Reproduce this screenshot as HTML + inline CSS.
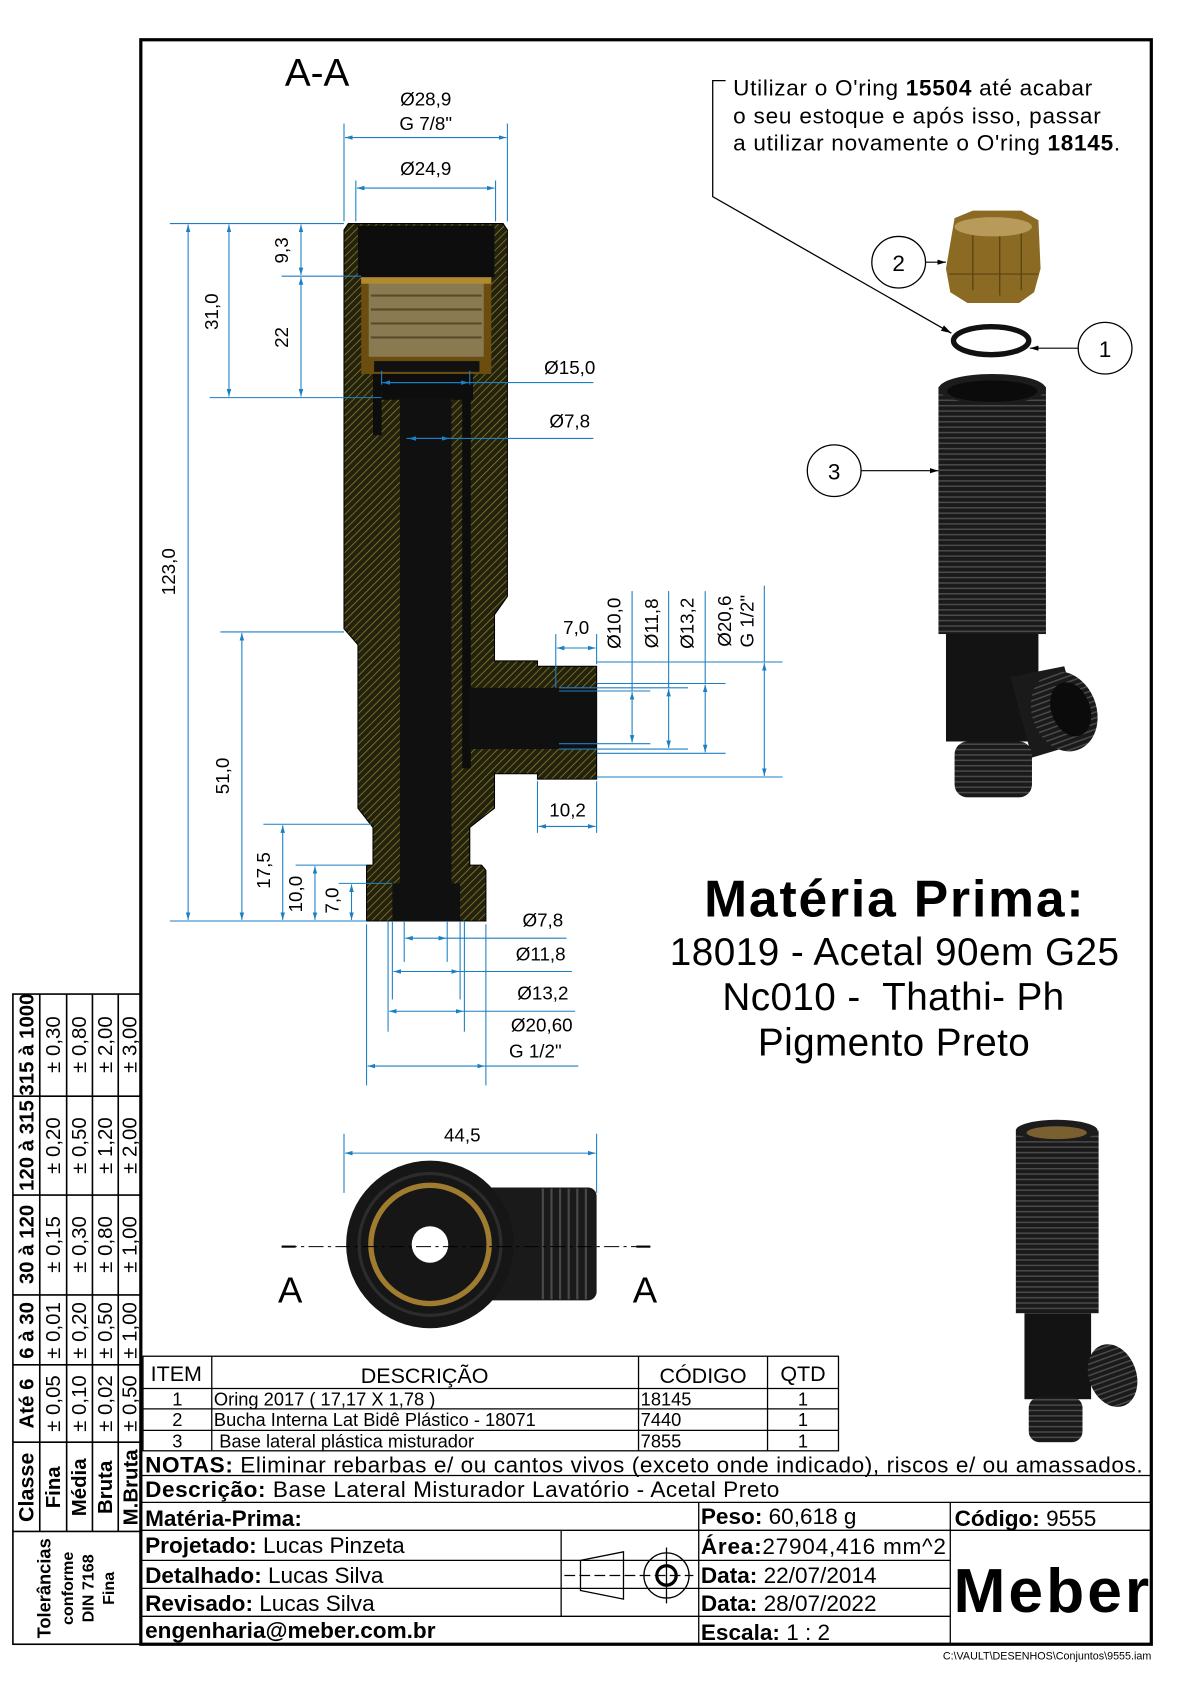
<!DOCTYPE html>
<html><head><meta charset="utf-8"><style>
html,body{margin:0;padding:0;background:#fff;width:1190px;height:1684px;overflow:hidden}
svg{display:block}
text{font-family:"Liberation Sans",sans-serif;fill:#000}
.d{stroke:#1b7fc4;stroke-width:1;fill:none}
.t{font-size:17.5px}
</style></head><body>
<svg width="1190" height="1684" viewBox="0 0 1107 1567" preserveAspectRatio="none" xmlns="http://www.w3.org/2000/svg">
<defs>
<pattern id="h" width="5" height="5" patternUnits="userSpaceOnUse" patternTransform="rotate(45)">
<rect width="5" height="5" fill="#24220e"/><line x1="0" y1="0" x2="0" y2="5" stroke="#8f8a2c" stroke-width="1.3"/>
</pattern>
<pattern id="rib" width="8" height="5" patternUnits="userSpaceOnUse">
<rect width="8" height="5" fill="#1a1a1a"/><line x1="0" y1="2.5" x2="8" y2="2.5" stroke="#4a4a4a" stroke-width="1.4"/>
</pattern>
<marker id="a" viewBox="0 0 10 10" refX="10" refY="5" markerWidth="7" markerHeight="7" orient="auto-start-reverse"><path d="M0,2 L10,5 L0,8z" fill="#1b7fc4"/></marker>
<marker id="k" viewBox="0 0 10 10" refX="10" refY="5" markerWidth="8" markerHeight="8" orient="auto"><path d="M0,2 L10,5 L0,8z" fill="#000"/></marker>
</defs>

<rect x="131" y="37" width="940" height="1493" fill="none" stroke="#000" stroke-width="3"/>

<text x="265" y="80" font-size="36">A-A</text>

<path d="M324,208 L468,208 L472,214 L472,555 L460,572 L460,615 L500,615 L500,620 L555,620 L555,725 L500,725 L500,720 L460,720 L460,752 L437,770 L437,805 L448,805 L452,810 L452,857 L341,857 L341,805 L347,805 L347,770 L333,752 L333,600 L320,585 L320,214z" fill="url(#h)" stroke="#000" stroke-width="1"/>
<rect x="333" y="210" width="127" height="48" fill="#0d0d0d"/>
<rect x="336" y="258" width="121" height="90" fill="#6b4d10"/>
<rect x="343" y="262" width="107" height="70" fill="#8a7a52"/>
<g stroke="#5a4a2a" stroke-width="2"><line x1="345" y1="275" x2="448" y2="275"/><line x1="345" y1="288" x2="448" y2="288"/><line x1="345" y1="301" x2="448" y2="301"/><line x1="345" y1="314" x2="448" y2="314"/></g>
<rect x="336" y="258" width="121" height="6" fill="#b08a30"/>
<rect x="348" y="336" width="98" height="10" fill="#111"/>
<rect x="355" y="348" width="85" height="24" fill="#0d0d0d"/>
<rect x="347" y="348" width="8" height="57" fill="#0d0d0d"/>
<rect x="372" y="370" width="48" height="487" fill="#101010"/>
<rect x="430" y="370" width="8" height="345" fill="#0d0d0d"/>
<rect x="438" y="640" width="117" height="57" fill="#101010"/>
<rect x="365" y="822" width="63" height="35" fill="#101010"/>

<g class="d">
<line x1="320" y1="115" x2="320" y2="206"/><line x1="472" y1="115" x2="472" y2="206"/>
<line x1="321" y1="128" x2="471" y2="128" marker-start="url(#a)" marker-end="url(#a)"/>
<line x1="331" y1="168" x2="331" y2="206"/><line x1="461" y1="168" x2="461" y2="206"/>
<line x1="332" y1="175" x2="460" y2="175" marker-start="url(#a)" marker-end="url(#a)"/>
<line x1="158" y1="208" x2="320" y2="208"/>
<line x1="175" y1="209" x2="175" y2="856" marker-start="url(#a)" marker-end="url(#a)"/>
<line x1="213" y1="209" x2="213" y2="369" marker-start="url(#a)" marker-end="url(#a)"/>
<line x1="195" y1="370" x2="355" y2="370"/>
<line x1="280" y1="209" x2="280" y2="256" marker-start="url(#a)" marker-end="url(#a)"/>
<line x1="262" y1="257" x2="336" y2="257"/>
<line x1="280" y1="258" x2="280" y2="369" marker-start="url(#a)" marker-end="url(#a)"/>
<line x1="355" y1="356" x2="552" y2="356"/>
<line x1="356" y1="356" x2="436" y2="356" marker-start="url(#a)" marker-end="url(#a)"/>
<line x1="355" y1="345" x2="355" y2="358"/><line x1="437" y1="345" x2="437" y2="358"/>
<line x1="378" y1="408" x2="552" y2="408"/>
<line x1="380" y1="408" x2="418" y2="408" marker-start="url(#a)" marker-end="url(#a)"/>
<line x1="158" y1="857" x2="341" y2="857"/>
<line x1="205" y1="588" x2="320" y2="588"/>
<line x1="225" y1="589" x2="225" y2="856" marker-start="url(#a)" marker-end="url(#a)"/>
<line x1="245" y1="767" x2="345" y2="767"/>
<line x1="263" y1="768" x2="263" y2="856" marker-start="url(#a)" marker-end="url(#a)"/>
<line x1="275" y1="805" x2="341" y2="805"/>
<line x1="293" y1="806" x2="293" y2="856" marker-start="url(#a)" marker-end="url(#a)"/>
<line x1="315" y1="822" x2="365" y2="822"/>
<line x1="327" y1="823" x2="327" y2="856" marker-start="url(#a)" marker-end="url(#a)"/>
<line x1="517" y1="590" x2="517" y2="640"/><line x1="555" y1="590" x2="555" y2="618"/>
<line x1="518" y1="603" x2="554" y2="603" marker-start="url(#a)" marker-end="url(#a)"/>
<line x1="500" y1="727" x2="500" y2="775"/><line x1="555" y1="727" x2="555" y2="775"/>
<line x1="501" y1="769" x2="554" y2="769" marker-start="url(#a)" marker-end="url(#a)"/>
<line x1="555" y1="616" x2="728" y2="616"/><line x1="555" y1="723" x2="728" y2="723"/>
<line x1="711" y1="617" x2="711" y2="722" marker-start="url(#a)" marker-end="url(#a)"/>
<line x1="555" y1="636" x2="675" y2="636"/><line x1="555" y1="701" x2="675" y2="701"/>
<line x1="656" y1="637" x2="656" y2="700" marker-start="url(#a)" marker-end="url(#a)"/>
<line x1="520" y1="640" x2="640" y2="640"/><line x1="520" y1="697" x2="640" y2="697"/>
<line x1="622" y1="641" x2="622" y2="696" marker-start="url(#a)" marker-end="url(#a)"/>
<line x1="520" y1="643" x2="605" y2="643"/><line x1="520" y1="692" x2="605" y2="692"/>
<line x1="588" y1="644" x2="588" y2="691" marker-start="url(#a)" marker-end="url(#a)"/>
<line x1="588" y1="550" x2="588" y2="643"/><line x1="622" y1="550" x2="622" y2="640"/><line x1="656" y1="550" x2="656" y2="636"/><line x1="711" y1="545" x2="711" y2="616"/>
<line x1="376" y1="857" x2="376" y2="895"/><line x1="416" y1="857" x2="416" y2="895"/>
<line x1="377" y1="873" x2="415" y2="873" marker-start="url(#a)" marker-end="url(#a)"/><line x1="415" y1="873" x2="527" y2="873"/>
<line x1="365" y1="857" x2="365" y2="930"/><line x1="428" y1="857" x2="428" y2="930"/>
<line x1="366" y1="904" x2="427" y2="904" marker-start="url(#a)" marker-end="url(#a)"/><line x1="427" y1="904" x2="532" y2="904"/>
<line x1="361" y1="857" x2="361" y2="960"/><line x1="432" y1="857" x2="432" y2="960"/>
<line x1="362" y1="941" x2="431" y2="941" marker-start="url(#a)" marker-end="url(#a)"/><line x1="431" y1="941" x2="535" y2="941"/>
<line x1="341" y1="860" x2="341" y2="1010"/><line x1="452" y1="860" x2="452" y2="1010"/>
<line x1="342" y1="992" x2="451" y2="992" marker-start="url(#a)" marker-end="url(#a)"/><line x1="451" y1="992" x2="538" y2="992"/>
<line x1="320" y1="1055" x2="320" y2="1110"/><line x1="555" y1="1055" x2="555" y2="1110"/>
<line x1="321" y1="1073" x2="554" y2="1073" marker-start="url(#a)" marker-end="url(#a)"/>
</g>
<g class="t">
<text x="396" y="98" text-anchor="middle">Ø28,9</text>
<text x="396" y="121" text-anchor="middle">G 7/8"</text>
<text x="396" y="163" text-anchor="middle">Ø24,9</text>
<text transform="translate(203,290) rotate(-90)" text-anchor="middle">31,0</text>
<text transform="translate(268,233) rotate(-90)" text-anchor="middle">9,3</text>
<text transform="translate(268,314) rotate(-90)" text-anchor="middle">22</text>
<text transform="translate(163,532) rotate(-90)" text-anchor="middle">123,0</text>
<text transform="translate(213,722) rotate(-90)" text-anchor="middle">51,0</text>
<text transform="translate(251,810) rotate(-90)" text-anchor="middle">17,5</text>
<text transform="translate(281,832) rotate(-90)" text-anchor="middle">10,0</text>
<text transform="translate(315,838) rotate(-90)" text-anchor="middle">7,0</text>
<text x="530" y="348" text-anchor="middle">Ø15,0</text>
<text x="530" y="398" text-anchor="middle">Ø7,8</text>
<text x="536" y="590" text-anchor="middle">7,0</text>
<text transform="translate(577,580) rotate(-90)" text-anchor="middle">Ø10,0</text>
<text transform="translate(612,580) rotate(-90)" text-anchor="middle">Ø11,8</text>
<text transform="translate(645,580) rotate(-90)" text-anchor="middle">Ø13,2</text>
<text transform="translate(680,578) rotate(-90)" text-anchor="middle">Ø20,6</text>
<text transform="translate(701,578) rotate(-90)" text-anchor="middle">G 1/2"</text>
<text x="528" y="760" text-anchor="middle">10,2</text>
<text x="505" y="862" text-anchor="middle">Ø7,8</text>
<text x="503" y="894" text-anchor="middle">Ø11,8</text>
<text x="505" y="930" text-anchor="middle">Ø13,2</text>
<text x="504" y="960" text-anchor="middle">Ø20,60</text>
<text x="498" y="984" text-anchor="middle">G 1/2"</text>
<text x="430" y="1062" text-anchor="middle">44,5</text>
</g>

<rect x="450" y="1105" width="105" height="105" rx="8" fill="#1a1a1a"/>
<g stroke="#4a4a4a" stroke-width="2"><line x1="505" y1="1106" x2="505" y2="1209"/><line x1="513" y1="1106" x2="513" y2="1209"/><line x1="521" y1="1106" x2="521" y2="1209"/><line x1="529" y1="1106" x2="529" y2="1209"/><line x1="537" y1="1106" x2="537" y2="1209"/><line x1="545" y1="1106" x2="545" y2="1209"/></g>
<circle cx="400" cy="1158" r="78" fill="#161616"/>
<circle cx="400" cy="1158" r="66" fill="none" stroke="#2c2c2c" stroke-width="3"/>
<circle cx="400" cy="1158" r="55" fill="none" stroke="#a07c30" stroke-width="5"/>
<circle cx="400" cy="1158" r="17" fill="#fff"/>
<line x1="262" y1="1160" x2="605" y2="1160" stroke="#000" stroke-width="1" stroke-dasharray="14,4,3,4"/>
<line x1="262" y1="1160" x2="275" y2="1160" stroke="#000" stroke-width="2"/><line x1="592" y1="1160" x2="605" y2="1160" stroke="#000" stroke-width="2"/>
<text x="270" y="1212" font-size="34" text-anchor="middle">A</text>
<text x="600" y="1212" font-size="34" text-anchor="middle">A</text>

<path d="M675,75 L663,75 L663,183 L885,310" fill="none" stroke="#000" stroke-width="1.2" marker-end="url(#k)"/>
<text x="682" y="89" font-size="21" textLength="334">Utilizar o O'ring <tspan font-weight="bold">15504</tspan> até acabar</text>
<text x="682" y="115" font-size="21" textLength="342">o seu estoque e após isso, passar</text>
<text x="682" y="140" font-size="21" textLength="360">a utilizar novamente o O'ring <tspan font-weight="bold">18145</tspan>.</text>

<path d="M888,203 L905,196 L950,196 L966,205 L968,250 L962,272 L948,282 L900,282 L884,272 L880,250z" fill="#8b6a24"/>
<g stroke="#5a4310" stroke-width="1.2"><line x1="905" y1="215" x2="905" y2="270"/><line x1="930" y1="215" x2="930" y2="275"/><line x1="950" y1="215" x2="950" y2="270"/></g>
<ellipse cx="924" cy="211" rx="36" ry="9" fill="#b89a5a"/>
<line x1="883" y1="255" x2="966" y2="255" stroke="#5a4310"/>
<ellipse cx="922" cy="317" rx="35" ry="13" fill="none" stroke="#111" stroke-width="5"/>
<rect x="873" y="360" width="100" height="230" fill="url(#rib)"/>
<ellipse cx="923" cy="362" rx="50" ry="14" fill="#1c1c1c"/>
<ellipse cx="923" cy="364" rx="42" ry="10" fill="#0b0b0b"/>
<path d="M880,590 L966,590 L966,690 L880,690z" fill="#131313"/>
<path d="M940,630 L990,620 L1010,690 L960,705z" fill="#1a1a1a"/>
<ellipse cx="990" cy="662" rx="30" ry="38" fill="url(#rib)" transform="rotate(-20 990 662)"/>
<ellipse cx="996" cy="660" rx="18" ry="26" fill="#0b0b0b" transform="rotate(-20 996 660)"/>
<rect x="888" y="690" width="72" height="52" rx="12" fill="url(#rib)"/>
<line x1="860" y1="244" x2="880" y2="244" stroke="#000" marker-end="url(#k)"/>
<line x1="1004" y1="324" x2="958" y2="324" stroke="#000" marker-end="url(#k)"/>
<line x1="800" y1="438" x2="873" y2="438" stroke="#000" marker-end="url(#k)"/>
<g fill="#fff" stroke="#000" stroke-width="1.2">
<ellipse cx="836" cy="244" rx="25" ry="24"/><ellipse cx="1028" cy="324" rx="25" ry="24"/><ellipse cx="776" cy="438" rx="25" ry="24"/></g>
<g font-size="21" text-anchor="middle"><text x="836" y="252">2</text><text x="1028" y="332">1</text><text x="776" y="446">3</text></g>

<text x="655" y="853" font-size="48" font-weight="bold" textLength="353">Matéria Prima:</text>
<text x="623" y="898" font-size="36" textLength="418">18019 - Acetal 90em G25</text>
<text x="672" y="940" font-size="36" textLength="318" xml:space="preserve">Nc010 -  Thathi- Ph</text>
<text x="705" y="982" font-size="36" textLength="253">Pigmento Preto</text>

<rect x="945" y="1052" width="77" height="170" fill="url(#rib)"/>
<ellipse cx="983" cy="1052" rx="38" ry="10" fill="#1c1c1c"/>
<ellipse cx="983" cy="1054" rx="28" ry="6" fill="#7a6030"/>
<rect x="953" y="1222" width="62" height="80" fill="#131313"/>
<ellipse cx="1035" cy="1280" rx="22" ry="30" fill="url(#rib)" transform="rotate(-20 1035 1280)"/>
<rect x="957" y="1300" width="50" height="42" rx="10" fill="url(#rib)"/>

<g stroke="#000" stroke-width="1.5" fill="none">
<rect x="12" y="925" width="119" height="605"/>
<line x1="37" y1="925" x2="37" y2="1425"/><line x1="62" y1="925" x2="62" y2="1425"/><line x1="86" y1="925" x2="86" y2="1425"/><line x1="110" y1="925" x2="110" y2="1425"/>
<line x1="12" y1="1020" x2="131" y2="1020"/><line x1="12" y1="1112" x2="131" y2="1112"/><line x1="12" y1="1205" x2="131" y2="1205"/><line x1="12" y1="1270" x2="131" y2="1270"/><line x1="12" y1="1342" x2="131" y2="1342"/><line x1="12" y1="1425" x2="131" y2="1425"/>
</g>
<g font-size="19">
<g font-weight="bold"><text transform="translate(31,972) rotate(-90)" text-anchor="middle">315 à 1000</text>
<text transform="translate(31,1066) rotate(-90)" text-anchor="middle">120 à 315</text>
<text transform="translate(31,1158) rotate(-90)" text-anchor="middle">30 à 120</text>
<text transform="translate(31,1238) rotate(-90)" text-anchor="middle">6 à 30</text>
<text transform="translate(31,1306) rotate(-90)" text-anchor="middle">Até 6</text>
<text transform="translate(31,1384) rotate(-90)" text-anchor="middle" font-size="20">Classe</text>
<text transform="translate(56,1384) rotate(-90)" text-anchor="middle">Fina</text>
<text transform="translate(80,1384) rotate(-90)" text-anchor="middle">Média</text>
<text transform="translate(104,1384) rotate(-90)" text-anchor="middle">Bruta</text>
<text transform="translate(128,1384) rotate(-90)" text-anchor="middle">M.Bruta</text>
<text transform="translate(47,1478) rotate(-90)" text-anchor="middle" font-size="17">Tolerâncias</text>
<text transform="translate(68,1478) rotate(-90)" text-anchor="middle" font-size="15">conforme</text>
<text transform="translate(87,1478) rotate(-90)" text-anchor="middle" font-size="15">DIN 7168</text>
<text transform="translate(106,1478) rotate(-90)" text-anchor="middle" font-size="15">Fina</text></g>
<g><text transform="translate(56,972) rotate(-90)" text-anchor="middle">± 0,30</text><text transform="translate(80,972) rotate(-90)" text-anchor="middle">± 0,80</text><text transform="translate(104,972) rotate(-90)" text-anchor="middle">± 2,00</text><text transform="translate(127,972) rotate(-90)" text-anchor="middle">± 3,00</text>
<text transform="translate(56,1066) rotate(-90)" text-anchor="middle">± 0,20</text><text transform="translate(80,1066) rotate(-90)" text-anchor="middle">± 0,50</text><text transform="translate(104,1066) rotate(-90)" text-anchor="middle">± 1,20</text><text transform="translate(127,1066) rotate(-90)" text-anchor="middle">± 2,00</text>
<text transform="translate(56,1158) rotate(-90)" text-anchor="middle">± 0,15</text><text transform="translate(80,1158) rotate(-90)" text-anchor="middle">± 0,30</text><text transform="translate(104,1158) rotate(-90)" text-anchor="middle">± 0,80</text><text transform="translate(127,1158) rotate(-90)" text-anchor="middle">± 1,00</text>
<text transform="translate(56,1238) rotate(-90)" text-anchor="middle">± 0,01</text><text transform="translate(80,1238) rotate(-90)" text-anchor="middle">± 0,20</text><text transform="translate(104,1238) rotate(-90)" text-anchor="middle">± 0,50</text><text transform="translate(127,1238) rotate(-90)" text-anchor="middle">± 1,00</text>
<text transform="translate(56,1306) rotate(-90)" text-anchor="middle">± 0,05</text><text transform="translate(80,1306) rotate(-90)" text-anchor="middle">± 0,10</text><text transform="translate(104,1306) rotate(-90)" text-anchor="middle">± 0,02</text><text transform="translate(127,1306) rotate(-90)" text-anchor="middle">± 0,50</text></g>
</g>

<g stroke="#000" stroke-width="1.2" fill="none">
<rect x="133" y="1262" width="647" height="88"/>
<line x1="197" y1="1262" x2="197" y2="1350"/><line x1="594" y1="1262" x2="594" y2="1350"/><line x1="714" y1="1262" x2="714" y2="1350"/>
<line x1="133" y1="1292" x2="780" y2="1292"/><line x1="133" y1="1311" x2="780" y2="1311"/><line x1="133" y1="1331" x2="780" y2="1331"/>
</g>
<g font-size="20"><text x="164" y="1285" text-anchor="middle">ITEM</text><text x="395" y="1287" text-anchor="middle">DESCRIÇÃO</text><text x="654" y="1287" text-anchor="middle">CÓDIGO</text><text x="747" y="1285" text-anchor="middle">QTD</text></g>
<g font-size="17">
<text x="165" y="1308" text-anchor="middle">1</text><text x="199" y="1308">Oring 2017  ( 17,17  X 1,78 )</text><text x="596" y="1308">18145</text><text x="747" y="1308" text-anchor="middle">1</text>
<text x="165" y="1327" text-anchor="middle">2</text><text x="199" y="1327">Bucha Interna Lat Bidê Plástico - 18071</text><text x="596" y="1327">7440</text><text x="747" y="1327" text-anchor="middle">1</text>
<text x="165" y="1347" text-anchor="middle">3</text><text x="204" y="1347">Base lateral plástica misturador</text><text x="596" y="1347">7855</text><text x="747" y="1347" text-anchor="middle">1</text>
</g>

<g stroke="#000" stroke-width="1.2" fill="none">
<line x1="131" y1="1373" x2="1071" y2="1373"/><line x1="131" y1="1398" x2="1071" y2="1398"/><line x1="131" y1="1424" x2="1071" y2="1424"/>
<line x1="131" y1="1452" x2="884" y2="1452"/><line x1="131" y1="1478" x2="884" y2="1478"/><line x1="131" y1="1504" x2="884" y2="1504"/>
<line x1="522" y1="1424" x2="522" y2="1504"/><line x1="650" y1="1398" x2="650" y2="1530"/><line x1="884" y1="1398" x2="884" y2="1530"/>
<path d="M540,1452 L580,1444 L580,1488 L540,1480z"/>
<line x1="525" y1="1466" x2="645" y2="1466" stroke-dasharray="10,4"/>
<circle cx="620" cy="1466" r="21"/><circle cx="620" cy="1466" r="9" stroke-width="3"/>
<line x1="620" y1="1440" x2="620" y2="1492"/>
</g>
<g font-size="21">
<text x="135" y="1370" textLength="928"><tspan font-weight="bold">NOTAS:</tspan> Eliminar rebarbas e/ ou cantos vivos (exceto onde indicado), riscos e/ ou amassados.</text>
<text x="135" y="1393" textLength="590"><tspan font-weight="bold">Descrição:</tspan> Base Lateral Misturador Lavatório - Acetal Preto</text>
<text x="135" y="1420" font-weight="bold">Matéria-Prima:</text>
<text x="652" y="1418"><tspan font-weight="bold">Peso:</tspan> 60,618 g</text>
<text x="888" y="1420"><tspan font-weight="bold">Código:</tspan> 9555</text>
<text x="135" y="1445"><tspan font-weight="bold">Projetado:</tspan> Lucas Pinzeta</text>
<text x="135" y="1473"><tspan font-weight="bold">Detalhado:</tspan> Lucas Silva</text>
<text x="135" y="1499"><tspan font-weight="bold">Revisado:</tspan> Lucas Silva</text>
<text x="135" y="1524" font-weight="bold">engenharia@meber.com.br</text>
<text x="652" y="1446" textLength="228"><tspan font-weight="bold">Área:</tspan>27904,416 mm^2</text>
<text x="652" y="1473"><tspan font-weight="bold">Data:</tspan> 22/07/2014</text>
<text x="652" y="1499"><tspan font-weight="bold">Data:</tspan> 28/07/2022</text>
<text x="652" y="1526"><tspan font-weight="bold">Escala:</tspan> 1 : 2</text>
</g>
<text x="887" y="1500" font-size="58" font-weight="bold" textLength="182">Meber</text>
<text x="1071" y="1544" font-size="10" text-anchor="end">C:\VAULT\DESENHOS\Conjuntos\9555.iam</text>
</svg>
</body></html>
